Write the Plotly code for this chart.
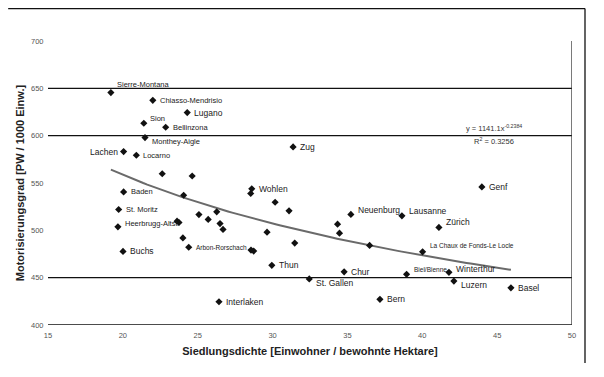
import numpy as np
import plotly.graph_objects as go

# --- data ---
names = ["Sierre-Montana", "Chiasso-Mendrisio", "Lugano", "Sion", "Bellinzona",
         "Monthey-Aigle", "Lachen", "Locarno", "", "", "Baden", "St. Moritz",
         "Heerbrugg-Altst.", "", "", "", "", "", "", "", "", "", "Arbon-Rorschach",
         "Buchs", "Wohlen", "", "", "", "", "", "", "", "Thun", "St. Gallen",
         "Interlaken", "Zug", "Neuenburg", "", "", "Lausanne", "",
         "La Chaux de Fonds-Le Locle", "Chur", "Biel/Bienne", "Bern", "Genf",
         "Zürich", "Winterthur", "Luzern", "Basel"]
density = [19.2, 22.0, 24.3, 21.4, 22.86,
           21.48, 20.05, 20.9, 22.63, 24.63, 20.05, 19.72,
           19.67, 23.62, 23.75, 24.06, 25.08, 25.70, 26.27, 26.49, 26.69, 24.01, 24.40,
           20.01, 28.61, 28.54, 30.17, 31.10, 29.63, 31.48, 28.56, 28.74, 29.95, 32.45,
           26.42, 31.37, 35.23, 34.34, 34.47, 38.64, 36.48,
           40.02, 34.78, 38.95, 37.17, 43.98,
           41.11, 41.78, 42.11, 45.92]
motorisation = [645.5, 637.3, 624.4, 613.1, 608.9,
                598.0, 583.2, 579.3, 559.8, 557.4, 540.6, 522.0,
                503.7, 509.7, 508.3, 537.1, 516.6, 511.5, 519.5, 507.1, 501.0, 492.0, 482.1,
                477.7, 543.8, 538.9, 529.7, 520.6, 498.1, 486.5, 479.1, 478.1, 463.0, 448.7,
                424.6, 588.1, 516.8, 506.5, 497.0, 515.3, 484.1,
                477.3, 456.2, 453.5, 427.1, 545.9,
                503.1, 455.6, 446.4, 439.3]
trend_a = 1141.1
trend_b = -0.2384
r_squared = 0.3256
x_ticks = [15, 20, 25, 30, 35, 40, 45, 50]
y_ticks = [400, 450, 500, 550, 600, 650, 700]
gridlines = [400, 450, 600, 650]

# --- label styling (pixel offsets of labels from their points) ---
big = {"Lugano", "Lachen", "Buchs", "Wohlen", "Thun", "Genf", "Neuenburg", "Lausanne",
       "Zürich", "Chur", "Luzern", "Basel", "Bern", "St. Gallen", "Interlaken", "Zug",
       "Winterthur"}
small = {"Arbon-Rorschach", "La Chaux de Fonds-Le Locle", "Biel/Bienne"}
yshift_map = {"Sierre-Montana": 8, "Sion": 5, "Monthey-Aigle": -4, "Heerbrugg-Altst.": 3,
              "Neuenburg": 4, "Lausanne": 5, "Zürich": 5, "La Chaux de Fonds-Le Locle": 6,
              "Biel/Bienne": 5, "Winterthur": 3, "Luzern": -4, "St. Gallen": -4}
xshift_map = {"Sierre-Montana": 4, "Sion": 4}

fig = go.Figure()

xt = np.linspace(min(density), max(density), 100)
fig.add_trace(go.Scatter(x=xt, y=trend_a * xt ** trend_b, mode="lines",
                         line=dict(color="#6a6a6a", width=2), hoverinfo="skip",
                         showlegend=False))

fig.add_trace(go.Scatter(x=density, y=motorisation, mode="markers",
                         marker=dict(symbol="diamond", size=5.5, color="#111"),
                         hovertext=names, showlegend=False))

annotations = []
for n, xv, yv in zip(names, density, motorisation):
    if not n:
        continue
    size = 8.5 if n in big else (6.5 if n in small else 7.5)
    left = n == "Lachen"
    annotations.append(dict(
        x=xv, y=yv, xref="x", yref="y", text=n, showarrow=False,
        xanchor="right" if left else "left", yanchor="middle",
        xshift=-4 if left else xshift_map.get(n, 5), yshift=yshift_map.get(n, 0),
        font=dict(size=size, color="#1a1a1a", family="Liberation Sans, Arial")))

annotations += [
    dict(x=44.8, y=608, xref="x", yref="y", showarrow=False,
         text="y = 1141.1x<sup>-0.2384</sup>", font=dict(size=7.5, color="#333")),
    dict(x=44.8, y=594, xref="x", yref="y", showarrow=False,
         text="R<sup>2</sup> = 0.3256", font=dict(size=7.5, color="#333")),
]

shapes = []
for g in gridlines:
    shapes.append(dict(type="line", xref="x", yref="y", x0=15, x1=50, y0=g, y1=g,
                       line=dict(color="#111", width=1.3)))
shapes.append(dict(type="line", xref="x", yref="y", x0=50, x1=50, y0=400, y1=700,
                   line=dict(color="#333", width=1.3)))
# outer chart frame (top and right)
shapes.append(dict(type="line", xref="paper", yref="paper", x0=-0.076, x1=1.0248,
                   y0=1.114, y1=1.114, line=dict(color="#111", width=1.3)))
shapes.append(dict(type="line", xref="paper", yref="paper", x0=1.0248, x1=1.0248,
                   y0=1.114, y1=-0.134, line=dict(color="#111", width=1.3)))

fig.update_layout(
    width=596, height=369,
    margin=dict(l=40, r=32, t=33, b=52),
    paper_bgcolor="white", plot_bgcolor="white",
    font=dict(family="Liberation Sans, Arial", color="#222"),
    shapes=shapes,
    annotations=annotations,
    xaxis=dict(range=[15, 50], tickvals=x_ticks, showgrid=False, zeroline=False,
               showline=False, ticks="outside", ticklen=3, tickcolor="rgba(0,0,0,0)",
               tickfont=dict(size=7.5, color="#555"),
               title=dict(text="<b>Siedlungsdichte [Einwohner / bewohnte Hektare]</b>",
                          font=dict(size=11, color="#222"), standoff=8)),
    yaxis=dict(range=[400, 700], tickvals=y_ticks, showgrid=False, zeroline=False,
               showline=False, ticks="outside", ticklen=2, tickcolor="rgba(0,0,0,0)",
               tickfont=dict(size=7.5, color="#555"),
               title=dict(text="<b>Motorisierungsgrad [PW / 1000 Einw.]</b>",
                          font=dict(size=11, color="#222"), standoff=4)),
)

fig.write_html("out.html")
